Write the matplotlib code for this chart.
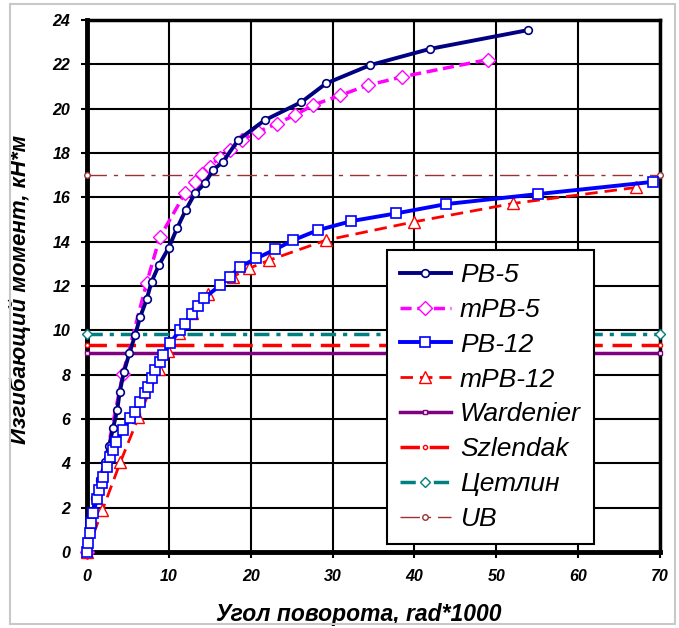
import numpy as np
import matplotlib
matplotlib.use("Agg")
from matplotlib import pyplot as plt
from matplotlib.patches import Rectangle

plt.rcParams['font.family'] = ['Liberation Sans', 'DejaVu Sans']
plt.rcParams['lines.scale_dashes'] = False

# PB-5
pb5_x = [0, 0.5, 1.0, 1.6, 2.2, 2.7, 3.2, 3.7, 4.0, 4.5, 5.2, 5.9, 6.5, 7.3, 7.9, 8.8,
         10.0, 11.0, 12.1, 13.2, 14.4, 15.4, 16.6, 18.5, 21.7, 26.2, 29.2, 34.6, 41.9, 53.9]
pb5_y = [0, 1.2, 2.42, 3.25, 4.05, 4.78, 5.6, 6.4, 7.2, 8.1, 8.98, 9.8, 10.6, 11.4, 12.2, 12.95,
         13.73, 14.6, 15.45, 16.18, 16.63, 17.23, 17.6, 18.6, 19.48, 20.3, 21.14, 21.97, 22.7, 23.55]

# mPB-5
mpb5_x = [0, 4.4, 7.3, 8.9, 12.0, 13.2, 14.0, 15.0, 16.2, 17.5, 18.9, 20.9, 23.2, 25.4,
          27.6, 30.9, 34.3, 38.5, 49.0]
mpb5_y = [0, 8.05, 12.15, 14.2, 16.2, 16.7, 17.05, 17.38, 17.8, 18.15, 18.58, 18.96, 19.33, 19.71,
          20.16, 20.6, 21.06, 21.44, 22.22]

# PB-12
pb12_x = [0, 0.15, 0.35, 0.55, 0.8, 1.2, 1.5, 1.8, 2.0, 2.4, 2.8, 3.2, 3.6, 4.4, 5.25, 5.9,
          6.5, 7.1, 7.5, 7.9, 8.3, 8.9, 9.3, 10.2, 11.35, 12.0, 12.8, 13.6, 14.3, 16.3, 17.5,
          18.7, 20.7, 23.0, 25.2, 28.2, 32.3, 37.8, 43.9, 55.1, 69.1]
pb12_y = [0, 0.39, 0.84, 1.29, 1.75, 2.39, 2.8, 3.1, 3.4, 3.85, 4.3, 4.6, 4.98, 5.5, 6.03, 6.33,
          6.78, 7.16, 7.46, 7.84, 8.2, 8.58, 8.89, 9.45, 10.0, 10.3, 10.75, 11.1, 11.45, 12.04, 12.42,
          12.87, 13.25, 13.65, 14.07, 14.52, 14.93, 15.28, 15.7, 16.15, 16.7]

# mPB-12
mpb12_x = [0, 1.9, 4.1, 6.3, 8.8, 9.9, 11.2, 12.8, 14.8, 17.8, 19.8, 22.3, 29.2, 40.0, 52.1, 67.1]
mpb12_y = [0, 1.9, 4.07, 6.08, 8.24, 9.08, 9.9, 10.77, 11.63, 12.42, 12.8, 13.17, 14.07, 14.9,
           15.73, 16.45]

# design levels (constant lines)
limit_x = [0, 70]
wardenier = 9.0
szlendak = 9.35
tsetlin = 9.85
ub = 17.0

fig = plt.figure(figsize=(6.79, 6.28), dpi=100)
ax = fig.add_axes([0.128, 0.121, 0.844, 0.847])

# grey outer frame of the chart area
fig.patches.append(Rectangle((10/679, 4/628), 665/679, 620/628, transform=fig.transFigure,
                             fill=False, edgecolor='#c8c8c8', lw=1.5))

ax.plot(limit_x, [wardenier]*2, color='#800080', lw=2.5, marker='s', ms=3,
        mfc='white', mew=1, label='Wardenier', clip_on=False, zorder=3)
ax.plot(limit_x, [szlendak]*2, color='#ff0000', lw=2.5, dashes=(14, 7), marker='o', ms=3,
        mfc='white', mew=1, label='Szlendak', clip_on=False, zorder=3)
ax.plot(limit_x, [tsetlin]*2, color='#008080', lw=2.5, dashes=(11, 5, 3, 5), marker='D', ms=5,
        mfc='white', mew=1, label='Цетлин', clip_on=False, zorder=3)
ax.plot(limit_x, [ub]*2, color='#993333', lw=1, dashes=(14, 5, 3, 5), marker='o', ms=4,
        mfc='white', mew=1, label='UB', clip_on=False, zorder=3)

ax.plot(pb5_x, pb5_y, color='#000080', lw=2.8, marker='o', ms=5.5, mfc='white', mew=1.2,
        label='PB-5', clip_on=False, zorder=5)
ax.plot(mpb5_x, mpb5_y, color='#ff00ff', lw=2.5, dashes=(8, 4), marker='D', ms=7.5,
        mfc='white', mew=1, label='mPB-5', clip_on=False, zorder=4)
ax.plot(pb12_x, pb12_y, color='#0000ff', lw=2.8, marker='s', ms=6.5, mfc='white', mew=1.2,
        label='PB-12', clip_on=False, zorder=5)
ax.plot(mpb12_x, mpb12_y, color='#ff0000', lw=2, dashes=(9, 5), marker='^', ms=9,
        mfc='white', mew=1, label='mPB-12', clip_on=False, zorder=4)

ax.set_xlim(0, 70)
ax.set_ylim(0, 24)
ax.set_xticks(np.arange(0, 71, 10))
ax.set_yticks(np.arange(0, 25, 2))
ax.grid(True, color='black', lw=1.5)
ax.set_axisbelow(True)
for s in ax.spines.values():
    s.set_linewidth(2.5)
ax.spines['left'].set_linewidth(3.5)
ax.spines['bottom'].set_linewidth(3.5)
ax.tick_params(direction='out', length=4, width=1.5, pad=8)
for t in ax.get_xticklabels() + ax.get_yticklabels():
    t.set_fontfamily(['Liberation Sans Narrow', 'Liberation Sans'])
    t.set_fontweight('bold')
    t.set_fontstyle('italic')
    t.set_fontsize(11.5)

ax.set_xlabel('Угол поворота, rad*1000', fontsize=16.5, fontweight='bold', fontstyle='italic')
ax.xaxis.set_label_coords(0.475, -0.095)
ax.set_ylabel('Изгибающий момент, кН*м', fontsize=16, fontweight='bold', fontstyle='italic')
ax.yaxis.set_label_coords(-0.098, 0.494)

handles, labels = ax.get_legend_handles_labels()
order = [4, 5, 6, 7, 0, 1, 2, 3]
leg = ax.legend([handles[i] for i in order], [labels[i] for i in order],
                loc='upper left', bbox_to_anchor=(0.524, 0.568), borderaxespad=0,
                numpoints=1, prop={'size': 19, 'style': 'italic'}, handlelength=1.9,
                handletextpad=0.35, labelspacing=0.41, borderpad=0.5, fancybox=False,
                framealpha=1, edgecolor='black')
leg.get_frame().set_linewidth(1.5)

plt.savefig("out.png", dpi=100)
